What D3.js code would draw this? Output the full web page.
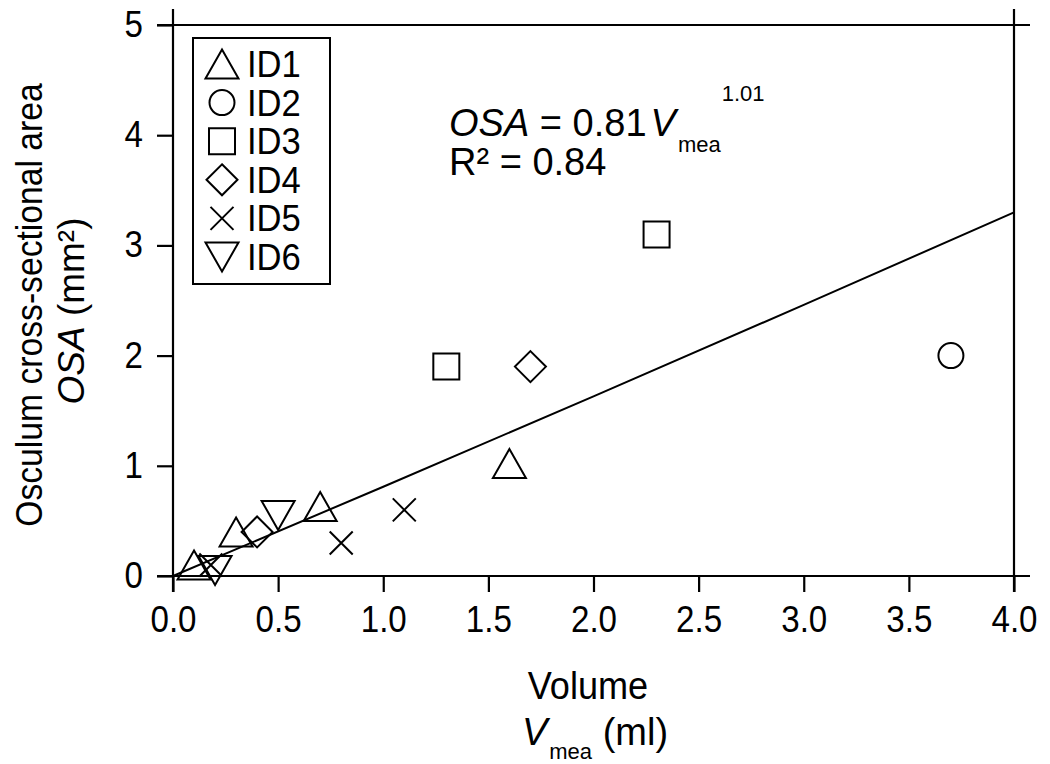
<!DOCTYPE html>
<html>
<head>
<meta charset="utf-8">
<script src="https://cdn.jsdelivr.net/npm/d3@7"></script>
<style>
    body { margin: 0; background: #fff; }
    svg { display: block; font-family: "Liberation Sans", Arial, sans-serif; }
</style>
</head>
<body>
<svg id="chart" width="1050" height="764"></svg>
<script>
// values
const ID_NAMES = ["ID1", "ID2", "ID3", "ID4", "ID5", "ID6"];
const ID_SHAPES = ["triangle", "circle", "square", "diamond", "cross", "triangleDown"];
const VOLUMES = [
    [0.1, 0.3, 0.7, 1.6],
    [3.7],
    [1.3, 2.3],
    [0.4, 1.7],
    [0.18, 0.8, 1.1],
    [0.2, 0.5]
];
const AREAS = [
    [0.1, 0.4, 0.63, 1.02],
    [2.0],
    [1.9, 3.1],
    [0.4, 1.9],
    [0.1, 0.3, 0.6],
    [0.05, 0.55]
];
// fitted curve, read at a few volumes
const FIT_VOLUMES = [0, 1, 2, 3, 4];
const FIT_AREAS = [0, 0.81, 1.63, 2.46, 3.3];
const X_TICKS = [0, 0.5, 1, 1.5, 2, 2.5, 3, 3.5, 4];
const Y_TICKS = [0, 1, 2, 3, 4, 5];

const svg = d3.select("#chart");
const plotLeft = 173, plotRight = 1014, plotTop = 25, plotBottom = 576;
const ext = 16;

const x = d3.scaleLinear().domain([0, 4]).range([plotLeft, plotRight]);
const y = d3.scaleLinear().domain([0, 5]).range([plotBottom, plotTop]);

// the original lettering is a little narrower than Arial
const condense = (sel, k) => {
    sel.each(function () {
        const len = this.getComputedTextLength();
        d3.select(this).attr("textLength", len * k).attr("lengthAdjust", "spacingAndGlyphs");
    });
};

// symbol outlines, centred on the bounding box
const shapePath = (shape) => {
    switch (shape) {
        case "triangle": return "M0,-14.5L16.5,14.5L-16.5,14.5Z";
        case "triangleDown": return "M0,14.5L16.5,-14.5L-16.5,-14.5Z";
        case "circle": return "M12.5,0A12.5,12.5 0 1,1 -12.5,0A12.5,12.5 0 1,1 12.5,0Z";
        case "square": return "M-13,-13H13V13H-13Z";
        case "diamond": return "M0,-15.5L15.5,0L0,15.5L-15.5,0Z";
        case "cross": return "M-11.5,-11.5L11.5,11.5M-11.5,11.5L11.5,-11.5";
    }
};

// frame, each side running a bit past the corners
const frame = svg.append("g").attr("stroke", "#000").attr("stroke-width", 2.2);
frame.append("line").attr("x1", plotLeft - ext).attr("x2", plotRight + ext).attr("y1", plotBottom).attr("y2", plotBottom);
frame.append("line").attr("x1", plotLeft - ext).attr("x2", plotRight + ext).attr("y1", plotTop).attr("y2", plotTop);
frame.append("line").attr("x1", plotLeft).attr("x2", plotLeft).attr("y1", plotTop - ext).attr("y2", plotBottom + ext);
frame.append("line").attr("x1", plotRight).attr("x2", plotRight).attr("y1", plotTop - ext).attr("y2", plotBottom + ext);

const xAxis = d3.axisBottom(x).tickValues(X_TICKS).tickSize(ext).tickSizeOuter(0)
    .tickPadding(14).tickFormat(d3.format(".1f"));
const xg = svg.append("g").attr("transform", `translate(0,${plotBottom})`).call(xAxis);
xg.select(".domain").remove();
xg.selectAll("line").attr("stroke-width", 2.2);
xg.selectAll("text").attr("font-size", 36).attr("font-family", null).attr("fill", "#000")
    .call(condense, 0.92);

const yAxis = d3.axisLeft(y).tickValues(Y_TICKS).tickSize(ext).tickSizeOuter(0)
    .tickPadding(14).tickFormat(d3.format("d"));
const yg = svg.append("g").attr("transform", `translate(${plotLeft},0)`).call(yAxis);
yg.select(".domain").remove();
yg.selectAll("line").attr("stroke-width", 2.2);
yg.selectAll("text").attr("font-size", 36).attr("font-family", null).attr("fill", "#000")
    .call(condense, 0.92);

// fitted line
svg.append("path")
    .datum(FIT_VOLUMES.map((v, i) => [v, FIT_AREAS[i]]))
    .attr("fill", "none")
    .attr("stroke", "#000")
    .attr("stroke-width", 2)
    .attr("d", d3.line().x(d => x(d[0])).y(d => y(d[1])));

// points
const points = [];
ID_NAMES.forEach((name, i) => {
    VOLUMES[i].forEach((v, j) => points.push({ shape: ID_SHAPES[i], v: v, a: AREAS[i][j] }));
});
svg.append("g").selectAll("path")
    .data(points)
    .enter()
    .append("path")
    .attr("transform", d => `translate(${x(d.v)},${y(d.a)})`)
    .attr("d", d => shapePath(d.shape))
    .attr("fill", "none")
    .attr("stroke", "#000")
    .attr("stroke-width", 2);

// legend
const legend = svg.append("g");
legend.append("rect")
    .attr("x", 193).attr("y", 38).attr("width", 137).attr("height", 246)
    .attr("fill", "#fff").attr("stroke", "#000").attr("stroke-width", 2);
const rows = legend.selectAll("g.row")
    .data(ID_NAMES)
    .enter()
    .append("g")
    .attr("class", "row")
    .attr("transform", (d, i) => `translate(222,${64 + i * 38.6})`);
rows.append("path")
    .attr("d", (d, i) => shapePath(ID_SHAPES[i]))
    .attr("fill", "none").attr("stroke", "#000").attr("stroke-width", 2);
rows.append("text")
    .attr("x", 25).attr("y", 13)
    .attr("font-size", 36)
    .text(d => d)
    .call(condense, 0.96);

// equation
const eq = svg.append("text").attr("x", 449).attr("y", 136).attr("font-size", 38);
eq.append("tspan").attr("font-style", "italic").text("OSA");
eq.append("tspan").text(" = 0.81");
eq.append("tspan").attr("font-style", "italic").attr("dx", 4).text("V");
eq.append("tspan").attr("font-size", 22).attr("dy", 16).attr("dx", 2).text("mea");
eq.append("tspan").attr("font-size", 22).attr("dy", -51).attr("dx", 1).text("1.01");
svg.append("text").attr("x", 449).attr("y", 175).attr("font-size", 38).text("R² = 0.84");

// x title
svg.append("text").attr("x", 588).attr("y", 699).attr("text-anchor", "middle")
    .attr("font-size", 38).text("Volume").call(condense, 0.95);
const xt = svg.append("text").attr("x", 595).attr("y", 745).attr("text-anchor", "middle")
    .attr("font-size", 38);
xt.append("tspan").attr("font-style", "italic").text("V");
xt.append("tspan").attr("font-size", 22).attr("dy", 14).attr("dx", 2).text("mea");
xt.append("tspan").attr("dy", -14).text(" (ml)");

// y title
const yt = svg.append("g").attr("transform", "translate(0,305) rotate(-90)");
yt.append("text").attr("x", 0).attr("y", 42).attr("text-anchor", "middle")
    .attr("font-size", 37).text("Osculum cross-sectional area")
    .call(condense, 0.91);
const yt2 = yt.append("text").attr("x", -6).attr("y", 84).attr("text-anchor", "middle")
    .attr("font-size", 37);
yt2.append("tspan").attr("font-style", "italic").text("OSA");
yt2.append("tspan").text(" (mm²)");
</script>
</body>
</html>
